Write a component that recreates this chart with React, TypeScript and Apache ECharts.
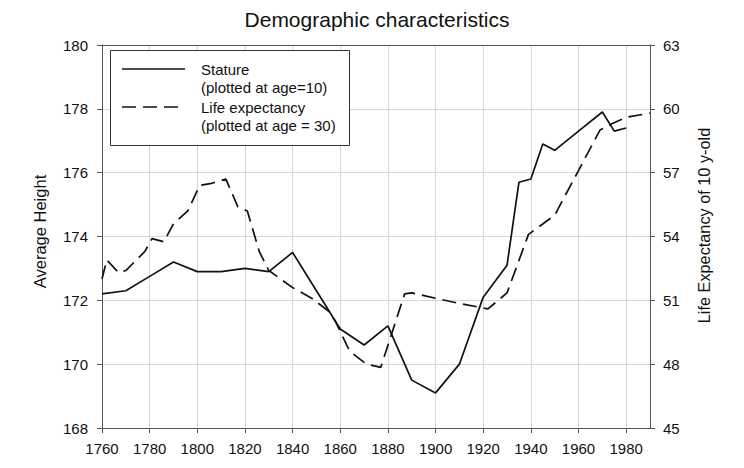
import React, { useEffect, useRef } from "react";
import * as echarts from "echarts";

const statureYears = [1760, 1770, 1780, 1790, 1800, 1810, 1820, 1830, 1840, 1850, 1860, 1870, 1880, 1890, 1900, 1910, 1920, 1930, 1935, 1940, 1945, 1950, 1960, 1970, 1975, 1980];
const statureValues = [172.2, 172.3, 172.75, 173.2, 172.9, 172.9, 173.0, 172.9, 173.5, 172.3, 171.1, 170.6, 171.2, 169.5, 169.1, 170.0, 172.1, 173.1, 175.7, 175.8, 176.9, 176.7, 177.3, 177.9, 177.3, 177.4];

const lifeYears = [1760, 1762, 1767, 1770, 1778, 1781, 1786, 1790, 1796, 1801, 1806, 1812, 1817, 1821, 1826, 1830, 1840, 1848, 1855, 1858, 1864, 1871, 1877, 1887, 1890, 1900, 1910, 1919, 1922, 1930, 1939, 1950, 1960, 1969, 1974, 1980, 1990];
const lifeValues = [52.0, 52.9, 52.3, 52.4, 53.3, 53.9, 53.75, 54.6, 55.2, 56.4, 56.5, 56.7, 55.4, 55.2, 53.3, 52.4, 51.6, 51.1, 50.5, 50.0, 48.6, 48.0, 47.85, 51.3, 51.35, 51.1, 50.85, 50.66, 50.6, 51.35, 54.1, 55.0, 57.1, 59.0, 59.3, 59.6, 59.8];

const titleText = "Demographic characteristics";
const leftAxisName = "Average Height";
const rightAxisName = "Life Expectancy of 10 y-old";
const legendLines = ["Stature", "(plotted at age=10)", "Life expectancy", "(plotted at age = 30)"];

const FONT = "Liberation Sans, Arial, sans-serif";

export default function App() {
  const ref = useRef<HTMLDivElement>(null);
  useEffect(() => {
    if (!ref.current) return;
    const chart = echarts.init(ref.current, null, { renderer: "svg" });
    const stature = statureYears.map((y, i) => [y, statureValues[i]]);
    const life = lifeYears.map((y, i) => [y, lifeValues[i]]);
    const axisColor = "#555";
    const gridColor = "#d6d6d6";
    const labelStyle = { color: "#111", fontSize: 15, fontFamily: FONT };
    chart.setOption({
      animation: false,
      backgroundColor: "#fff",
      title: {
        text: titleText,
        left: 372,
        top: 4,
        textAlign: "center",
        textStyle: { color: "#111", fontSize: 21, fontWeight: "normal", fontFamily: FONT },
      },
      grid: { left: 102, right: 94, top: 45, bottom: 40, containLabel: false },
      xAxis: [
        {
          type: "value",
          min: 1760,
          max: 1990,
          interval: 20,
          axisLine: { show: true, onZero: false, lineStyle: { color: axisColor, width: 1 } },
          axisTick: { show: true, inside: false, length: 5, lineStyle: { color: axisColor } },
          axisLabel: {
            ...labelStyle,
            margin: 13,
            showMaxLabel: false,
            formatter: (v: number) => (v > 1980 ? "" : String(v)),
          },
          splitLine: { show: true, lineStyle: { color: gridColor, width: 1 } },
        },
        {
          type: "value",
          position: "top",
          min: 1760,
          max: 1990,
          interval: 20,
          axisLine: { show: true, onZero: false, lineStyle: { color: axisColor, width: 1 } },
          axisTick: { show: false },
          axisLabel: { show: false },
          splitLine: { show: false },
        },
      ],
      yAxis: [
        {
          type: "value",
          min: 168,
          max: 180,
          interval: 2,
          position: "left",
          name: leftAxisName,
          nameLocation: "middle",
          nameRotate: 90,
          nameGap: 54,
          nameTextStyle: { color: "#111", fontSize: 16.5, fontFamily: FONT, padding: [0, 0, 0, 10] },
          axisLine: { show: true, onZero: false, lineStyle: { color: axisColor, width: 1 } },
          axisTick: { show: true, inside: false, length: 5, lineStyle: { color: axisColor } },
          axisLabel: { ...labelStyle, margin: 14 },
          splitLine: { show: true, lineStyle: { color: gridColor, width: 1 } },
        },
        {
          type: "value",
          min: 45,
          max: 63,
          interval: 3,
          position: "right",
          name: rightAxisName,
          nameLocation: "middle",
          nameRotate: 90,
          nameGap: 46,
          nameTextStyle: { color: "#111", fontSize: 16.3, fontFamily: FONT, padding: [0, 0, 0, 22] },
          axisLine: { show: true, onZero: false, lineStyle: { color: axisColor, width: 1 } },
          axisTick: { show: true, inside: false, length: 5, lineStyle: { color: axisColor } },
          axisLabel: { ...labelStyle, margin: 13 },
          splitLine: { show: false },
        },
      ],
      series: [
        {
          name: "Stature",
          type: "line",
          xAxisIndex: 0,
          yAxisIndex: 0,
          data: stature,
          showSymbol: false,
          symbol: "none",
          lineStyle: { color: "#111", width: 1.7, type: "solid" },
          z: 3,
        },
        {
          name: "Life expectancy",
          type: "line",
          xAxisIndex: 0,
          yAxisIndex: 1,
          data: life,
          showSymbol: false,
          symbol: "none",
          lineStyle: { color: "#111", width: 1.7, type: [14, 7] },
          z: 3,
        },
      ],
      graphic: [
        {
          type: "rect",
          shape: { x: 110.5, y: 50.5, width: 239, height: 95 },
          style: { fill: "#fff", stroke: "#333", lineWidth: 1 },
          z: 10,
        },
        {
          type: "line",
          shape: { x1: 122, y1: 69, x2: 185, y2: 69 },
          style: { stroke: "#111", lineWidth: 1.7 },
          z: 11,
        },
        {
          type: "line",
          shape: { x1: 122, y1: 107, x2: 185, y2: 107 },
          style: { stroke: "#111", lineWidth: 1.7, lineDash: [14, 7] },
          z: 11,
        },
        ...legendLines.map((t, i) => ({
          type: "text",
          x: 201,
          y: [69, 87.5, 107, 125][i],
          style: {
            text: t,
            fill: "#111",
            font: `15px ${FONT}`,
            textVerticalAlign: "middle",
            verticalAlign: "middle",
          },
          z: 11,
        })),
      ],
    });
    return () => chart.dispose();
  }, []);
  return (
    <div
      ref={ref}
      style={{ position: "fixed", left: 0, top: 0, width: 744, height: 468, background: "#fff" }}
    />
  );
}
